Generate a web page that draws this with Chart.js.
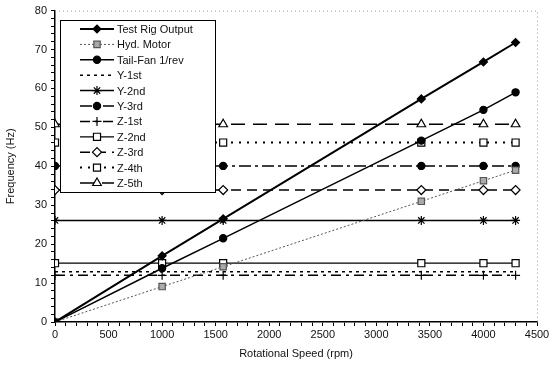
<!DOCTYPE html>
<html>
<head>
<meta charset="utf-8">
<script src="https://cdn.jsdelivr.net/npm/chart.js@4/dist/chart.umd.min.js"></script>
<style>
  html, body { margin: 0; padding: 0; background: #fff; }
  #wrap { width: 553px; height: 365px; }
</style>
</head>
<body>
<div id="wrap"><canvas id="chartFreq"></canvas></div>
<script>
// Frequência vs rotação (Campbell)
const speeds   = [0, 1000, 1570, 3420, 4000, 4300];
const testRig  = [0, 17, 26.5, 57.3, 66.8, 71.8];
const hydMotor = [0, 9.1, 14.2, 31, 36.3, 39];
const tailFan  = [0, 13.8, 21.5, 46.6, 54.5, 59];
const y1st = [12.9, 12.9, 12.9, 12.9, 12.9, 12.9];
const y2nd = [26.1, 26.1, 26.1, 26.1, 26.1, 26.1];
const y3rd = [40.1, 40.1, 40.1, 40.1, 40.1, 40.1];
const z1st = [12.0, 12.0, 12.0, 12.0, 12.0, 12.0];
const z2nd = [15.1, 15.1, 15.1, 15.1, 15.1, 15.1];
const z3rd = [33.9, 33.9, 33.9, 33.9, 33.9, 33.9];
const z4th = [46.1, 46.1, 46.1, 46.1, 46.1, 46.1];
const z5th = [50.8, 50.8, 50.8, 50.8, 50.8, 50.8];
const labels = ['Test Rig Output', 'Hyd. Motor', 'Tail-Fan 1/rev', 'Y-1st', 'Y-2nd', 'Y-3rd',
                'Z-1st', 'Z-2nd', 'Z-3rd', 'Z-4th', 'Z-5th'];

function pts(vals) {
    return speeds.map((s, i) => ({ x: s, y: vals[i] }));
}

function serie(label, vals, style) {
    return Object.assign({
        label: label,
        data: pts(vals),
        showLine: true,
        borderColor: '#000',
        backgroundColor: '#000',
        pointBorderColor: '#000',
        borderWidth: 1.5,
        pointRadius: 4,
        pointBorderWidth: 1.2,
        pointStyle: 'circle'
    }, style);
}

const datasets = [
    serie(labels[0], testRig, { borderWidth: 2, pointStyle: 'rectRot', pointRadius: 4 }),
    serie(labels[1], hydMotor, { borderColor: '#555', borderWidth: 1, borderDash: [2, 2],
        pointStyle: 'rect', pointBackgroundColor: '#aaa', pointBorderColor: '#555', pointRadius: 4.5 }),
    serie(labels[2], tailFan, { pointStyle: 'circle', pointRadius: 3.6 }),
    serie(labels[3], y1st, { borderDash: [3, 4], pointRadius: 0 }),
    serie(labels[4], y2nd, { pointStyle: 'star', pointRadius: 4.5 }),
    serie(labels[5], y3rd, { borderDash: [12, 4, 3, 4], pointStyle: 'circle', pointRadius: 3.6 }),
    serie(labels[6], z1st, { borderDash: [10, 5, 3, 5], pointStyle: 'cross', pointRadius: 4.5 }),
    serie(labels[7], z2nd, { borderWidth: 1.2, pointStyle: 'rect', pointBackgroundColor: '#fff', pointRadius: 5 }),
    serie(labels[8], z3rd, { borderDash: [10, 6], pointStyle: 'rectRot', pointBackgroundColor: '#fff', pointRadius: 4.5 }),
    serie(labels[9], z4th, { borderWidth: 2, borderDash: [2, 6], pointStyle: 'rect', pointBackgroundColor: '#fff', pointRadius: 5 }),
    serie(labels[10], z5th, { borderDash: [14, 8], pointStyle: 'triangle', pointBackgroundColor: '#fff', pointRadius: 5 })
];

// legenda desenhada dentro da área do gráfico
const legendaInterna = {
    id: 'legendaInterna',
    afterDatasetsDraw(chart) {
        const ctx = chart.ctx;
        const left = 60, top = 20, w = 155, h = 172;
        ctx.save();
        ctx.fillStyle = '#fff';
        ctx.fillRect(left, top, w, h);
        ctx.strokeStyle = '#000';
        ctx.lineWidth = 1;
        ctx.setLineDash([]);
        ctx.strokeRect(left + 0.5, top + 0.5, w, h);
        ctx.font = '11px "Liberation Sans", Arial, sans-serif';
        ctx.textBaseline = 'middle';
        chart.data.datasets.forEach((ds, i) => {
            const y = 29 + i * 15.4;
            ctx.strokeStyle = ds.borderColor;
            ctx.lineWidth = ds.borderWidth;
            ctx.setLineDash(ds.borderDash || []);
            ctx.beginPath();
            ctx.moveTo(80, y);
            ctx.lineTo(114, y);
            ctx.stroke();
            ctx.setLineDash([]);
            if (ds.pointRadius > 0) {
                ctx.fillStyle = ds.pointBackgroundColor || ds.backgroundColor;
                ctx.strokeStyle = ds.pointBorderColor;
                ctx.lineWidth = ds.pointBorderWidth;
                Chart.helpers.drawPoint(ctx, {
                    pointStyle: ds.pointStyle, radius: ds.pointRadius,
                    borderWidth: ds.pointBorderWidth, rotation: 0
                }, 97, y);
            }
            ctx.fillStyle = '#111';
            ctx.fillText(ds.label, 117, y + 1);
        });
        // moldura pontilhada no topo e à direita
        const a = chart.chartArea;
        ctx.strokeStyle = '#999';
        ctx.lineWidth = 1;
        ctx.setLineDash([1, 3]);
        ctx.beginPath();
        ctx.moveTo(a.left, a.top + 0.5);
        ctx.lineTo(a.right + 0.5, a.top + 0.5);
        ctx.lineTo(a.right + 0.5, a.bottom);
        ctx.stroke();
        ctx.restore();
    }
};

Chart.defaults.font.family = '"Liberation Sans", Arial, sans-serif';
Chart.defaults.font.size = 11;
Chart.defaults.color = '#111';

new Chart(document.getElementById('chartFreq'), {
    type: 'scatter',
    data: { datasets: datasets },
    options: {
        responsive: true,
        maintainAspectRatio: false,
        animation: false,
        layout: { padding: { top: 9, right: 16, left: 0, bottom: 0 } },
        plugins: {
            legend: { display: false },
            tooltip: { enabled: false }
        },
        scales: {
            x: {
                type: 'linear',
                min: 0,
                max: 4500,
                afterFit(scale) { scale.height = 43; },
                border: { color: '#000', width: 1.5 },
                grid: { drawOnChartArea: false, tickLength: 4, color: '#000' },
                ticks: {
                    stepSize: 100,
                    autoSkip: false,
                    maxRotation: 0,
                    padding: 2,
                    callback: v => (v % 500 === 0 ? v : '')
                },
                title: { display: true, text: 'Rotational Speed (rpm)', padding: { top: 2 } }
            },
            y: {
                min: 0,
                max: 80,
                afterFit(scale) { scale.width = 55; },
                border: { color: '#000', width: 1.5 },
                grid: { drawOnChartArea: false, tickLength: 4, color: '#000' },
                ticks: {
                    stepSize: 2,
                    autoSkip: false,
                    padding: 4,
                    callback: v => (v % 10 === 0 ? v : '')
                },
                title: { display: true, text: 'Frequency (Hz)', padding: { bottom: 2 } }
            }
        }
    },
    plugins: [legendaInterna]
});
</script>
</body>
</html>
